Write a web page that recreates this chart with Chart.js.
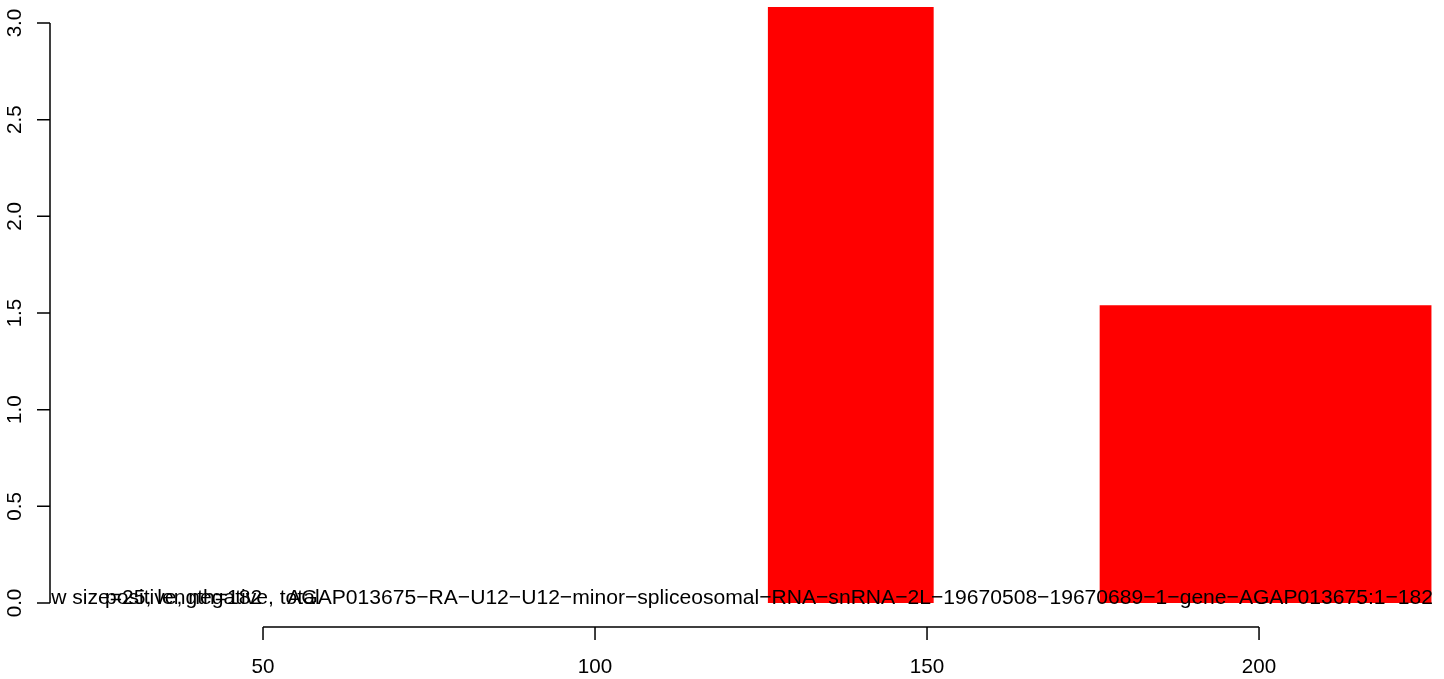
<!DOCTYPE html>
<html>
<head>
<meta charset="utf-8">
<script src="https://cdn.jsdelivr.net/npm/chart.js@4"></script>
<style>
    html, body { margin: 0; padding: 0; background: #ffffff; }
    #wrap { width: 1444px; height: 679px; }
</style>
</head>
<body>
<div id="wrap"><canvas id="histChart" width="1444" height="679"></canvas></div>
<script>
// bins
const binStarts = [126, 176];
const binEnds = [151, 226];
const binHeights = [3.083, 1.54];

const xTicks = [50, 100, 150, 200];
const yTicks = [0, 0.5, 1, 1.5, 2, 2.5, 3];

const labelWindow = "window size=25, length=182";
const labelStrands = "positive, negative, total";
const labelGene = "AGAP013675−RA−U12−U12−minor−spliceosomal−RNA−snRNA−2L−19670508−19670689−1−gene−AGAP013675:1−182";

const FONT = "20.6px 'Liberation Sans', Arial, sans-serif";
const NOTE_FONT = "21.1px 'Liberation Sans', Arial, sans-serif";

// outline of each bar as a closed step path
const outline = [];
binStarts.forEach((s, i) => {
    outline.push({ x: s, y: 0 });
    outline.push({ x: s, y: binHeights[i] });
    outline.push({ x: binEnds[i], y: binHeights[i] });
    outline.push({ x: binEnds[i], y: 0 });
});

const rAxes = {
    id: "rAxes",
    afterDatasetsDraw(chart) {
        const ctx = chart.ctx;
        const xs = chart.scales.x;
        const ys = chart.scales.y;
        const area = chart.chartArea;
        ctx.save();
        ctx.strokeStyle = "#000000";
        ctx.fillStyle = "#000000";
        ctx.lineWidth = 1.5;
        ctx.font = FONT;

        // y axis
        const yTop = ys.getPixelForValue(yTicks[yTicks.length - 1]);
        const yBot = ys.getPixelForValue(yTicks[0]);
        ctx.beginPath();
        ctx.moveTo(area.left, yTop);
        ctx.lineTo(area.left, yBot);
        yTicks.forEach(t => {
            const py = ys.getPixelForValue(t);
            ctx.moveTo(area.left - 13, py);
            ctx.lineTo(area.left, py);
        });
        ctx.stroke();
        ctx.textAlign = "center";
        ctx.textBaseline = "alphabetic";
        yTicks.forEach(t => {
            const py = ys.getPixelForValue(t);
            ctx.save();
            ctx.translate(21, py);
            ctx.rotate(-Math.PI / 2);
            ctx.fillText(t.toFixed(1), 0, 0);
            ctx.restore();
        });

        // x axis, drawn below the plot region
        const axisY = 627;
        const xl = xs.getPixelForValue(xTicks[0]);
        const xr = xs.getPixelForValue(xTicks[xTicks.length - 1]);
        ctx.beginPath();
        ctx.moveTo(xl, axisY);
        ctx.lineTo(xr, axisY);
        xTicks.forEach(t => {
            const px = xs.getPixelForValue(t);
            ctx.moveTo(px, axisY);
            ctx.lineTo(px, axisY + 13);
        });
        ctx.stroke();
        xTicks.forEach(t => {
            ctx.fillText(String(t), xs.getPixelForValue(t), 673);
        });

        // overlapping annotations along y = 0, clipped to the plot region
        const base = ys.getPixelForValue(0) + 1;
        ctx.font = NOTE_FONT;
        ctx.beginPath();
        ctx.rect(area.left, 0, area.right - area.left + 1, chart.height);
        ctx.clip();
        ctx.textAlign = "left";
        ctx.fillText(labelWindow, xs.getPixelForValue(9.8), base);
        ctx.fillText(labelStrands, xs.getPixelForValue(26.2), base);
        ctx.textAlign = "right";
        ctx.fillText(labelGene, area.right, base);
        ctx.restore();
    }
};

new Chart(document.getElementById("histChart"), {
    type: "scatter",
    data: {
        datasets: [{
            label: "bins",
            data: outline,
            showLine: true,
            fill: "origin",
            backgroundColor: "#ff0000",
            borderColor: "#ff0000",
            borderWidth: 0,
            pointRadius: 0,
            tension: 0
        }]
    },
    options: {
        responsive: false,
        animation: false,
        layout: { padding: { left: 50, right: 11, top: 7, bottom: 76 } },
        plugins: {
            legend: { display: false },
            tooltip: { enabled: false }
        },
        scales: {
            x: { type: "linear", display: false, min: 17.92, max: 226.2 },
            y: { type: "linear", display: false, min: 0, max: 3.083 }
        }
    },
    plugins: [rAxes]
});
</script>
</body>
</html>
